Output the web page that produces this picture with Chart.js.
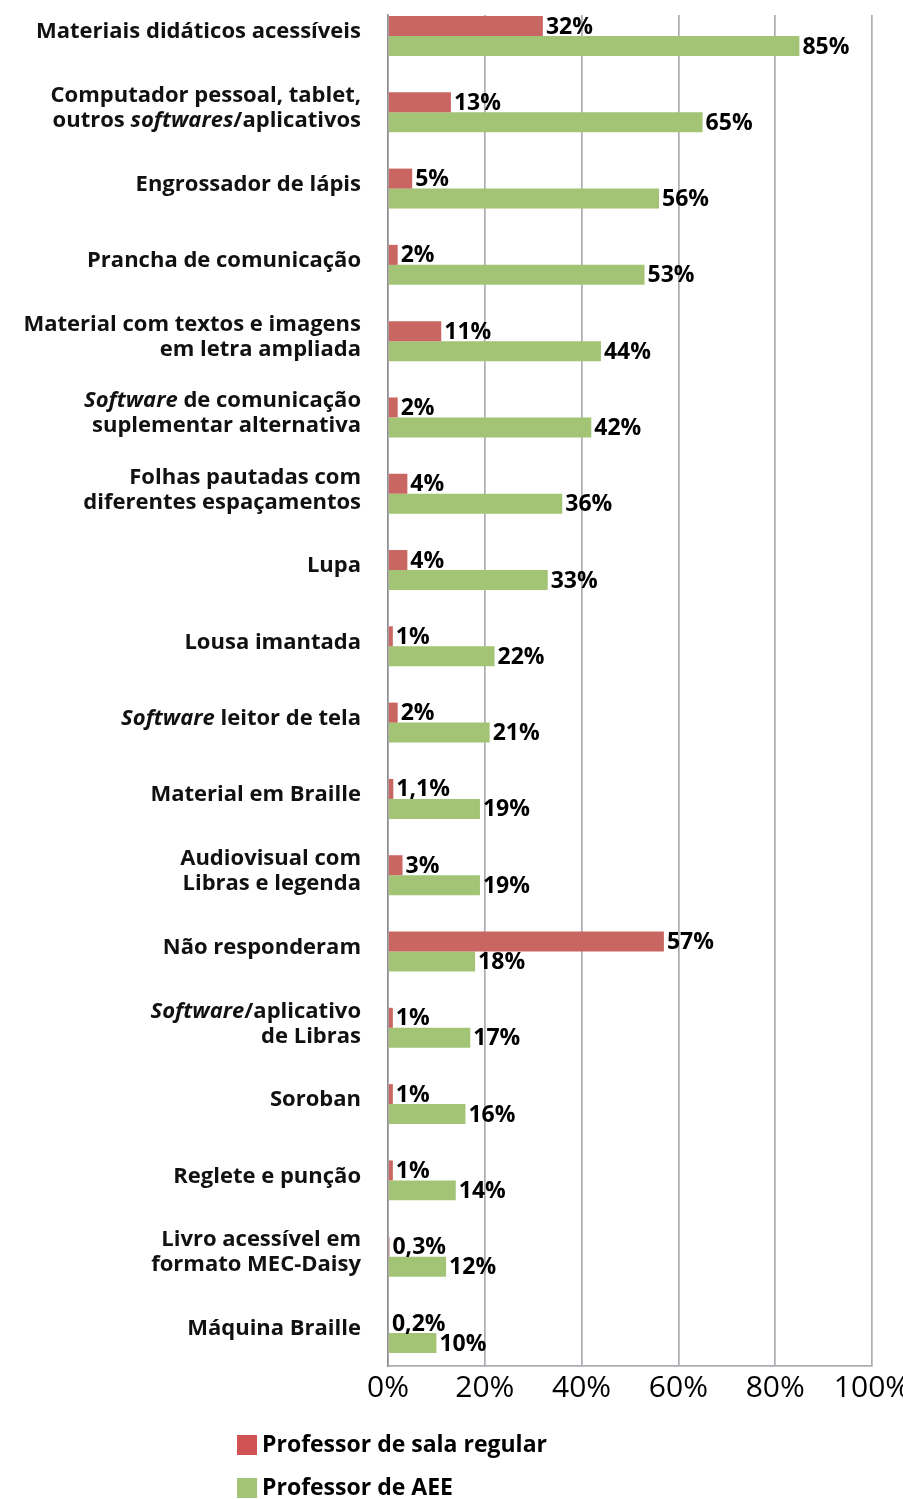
<!DOCTYPE html>
<html lang="pt-BR">
<head>
<meta charset="utf-8">
<title>Recursos utilizados pelos professores</title>
<script src="https://cdn.jsdelivr.net/npm/chart.js@4.4.1/dist/chart.umd.min.js"></script>
<style>
  html, body { margin: 0; padding: 0; background: #fff; }
  #wrap { width: 903px; height: 1499px; position: relative; }
</style>
</head>
<body>
<div id="wrap"><canvas id="myChart"></canvas></div>
<script>
// categorias: uma linha por item do array, trechos em itálico entre *
const categorias = [
  ['Materiais didáticos acessíveis'],
  ['Computador pessoal, tablet,', 'outros *softwares*/aplicativos'],
  ['Engrossador de lápis'],
  ['Prancha de comunicação'],
  ['Material com textos e imagens', 'em letra ampliada'],
  ['*Software* de comunicação', 'suplementar alternativa'],
  ['Folhas pautadas com', 'diferentes espaçamentos'],
  ['Lupa'],
  ['Lousa imantada'],
  ['*Software* leitor de tela'],
  ['Material em Braille'],
  ['Audiovisual com', 'Libras e legenda'],
  ['Não responderam'],
  ['*Software*/aplicativo', 'de Libras'],
  ['Soroban'],
  ['Reglete e punção'],
  ['Livro acessível em', 'formato MEC-Daisy'],
  ['Máquina Braille']
];
const salaRegular  = [32, 13, 5, 2, 11, 2, 4, 4, 1, 2, 1.1, 3, 57, 1, 1, 1, 0.3, 0.2];
const professorAEE = [85, 65, 56, 53, 44, 42, 36, 33, 22, 21, 19, 19, 18, 17, 16, 14, 12, 10];
const ticksX = [0, 20, 40, 60, 80, 100];
const nomesSeries = ['Professor de sala regular', 'Professor de AEE'];

const FONTE = '"Open Sans", "DejaVu Sans", sans-serif';
const corVermelha = '#C96662';
const corVerde = '#A2C474';

function fmt(v) {
  return String(v).replace('.', ',') + '%';
}

// rótulos das categorias com trechos em itálico
const rotulosY = {
  id: 'rotulosY',
  afterDraw(chart) {
    const ctx = chart.ctx;
    const y = chart.scales.y;
    const direita = y.right - 27;
    const alturaLinha = 25;
    ctx.save();
    ctx.fillStyle = '#111';
    ctx.textBaseline = 'middle';
    ctx.textAlign = 'left';
    categorias.forEach((linhas, i) => {
      const yc = y.getPixelForValue(i) - 4;
      const y0 = yc - (linhas.length - 1) * alturaLinha / 2;
      linhas.forEach((linha, j) => {
        const partes = linha.split('*').map((t, k) => ({ t, italico: k % 2 === 1 }));
        let total = 0;
        partes.forEach(p => {
          ctx.font = (p.italico ? 'italic ' : '') + 'bold 22px ' + FONTE;
          p.w = ctx.measureText(p.t).width;
          total += p.w;
        });
        let x = direita - total;
        partes.forEach(p => {
          ctx.font = (p.italico ? 'italic ' : '') + 'bold 22px ' + FONTE;
          ctx.fillText(p.t, x, y0 + j * alturaLinha);
          x += p.w;
        });
      });
    });
    ctx.restore();
  }
};

// valores ao lado de cada barra
const valoresBarras = {
  id: 'valoresBarras',
  afterDatasetsDraw(chart) {
    const ctx = chart.ctx;
    ctx.save();
    ctx.font = 'bold 23px ' + FONTE;
    ctx.fillStyle = '#000';
    ctx.textAlign = 'left';
    ctx.textBaseline = 'middle';
    chart.data.datasets.forEach((ds, d) => {
      chart.getDatasetMeta(d).data.forEach((bar, i) => {
        ctx.fillText(fmt(ds.data[i]), bar.x + 3, bar.y + 1);
      });
    });
    ctx.restore();
  }
};

// legenda empilhada no rodapé
const legendaRodape = {
  id: 'legendaRodape',
  afterDraw(chart) {
    const ctx = chart.ctx;
    ctx.save();
    ctx.font = 'bold 23px ' + FONTE;
    ctx.textBaseline = 'middle';
    ctx.textAlign = 'left';
    chart.data.datasets.forEach((ds, d) => {
      const yTop = 1435 + d * 43;
      ctx.fillStyle = d === 0 ? '#D05252' : '#A2C474';
      ctx.fillRect(237, yTop, 20, 20);
      ctx.fillStyle = '#000';
      ctx.fillText(ds.label, 262, yTop + 10);
    });
    ctx.restore();
  }
};

const ctx = document.getElementById('myChart');
new Chart(ctx, {
  type: 'bar',
  data: {
    labels: categorias.map(l => l.join(' ').replace(/\*/g, '')),
    datasets: [
      { label: nomesSeries[0], data: salaRegular, backgroundColor: corVermelha },
      { label: nomesSeries[1], data: professorAEE, backgroundColor: corVerde }
    ]
  },
  options: {
    indexAxis: 'y',
    responsive: true,
    maintainAspectRatio: false,
    animation: false,
    categoryPercentage: 0.524,
    barPercentage: 1.0,
    layout: { padding: { top: 15, right: 31, bottom: 83, left: 0 } },
    plugins: {
      legend: { display: false },
      tooltip: { enabled: false }
    },
    scales: {
      x: {
        type: 'linear',
        min: 0,
        max: 100,
        afterBuildTicks: (scale) => { scale.ticks = ticksX.map(v => ({ value: v })); },
        afterFit: (scale) => {
          scale.height = 50;
          // o "100%" pode ultrapassar a borda direita
          scale.paddingLeft = 0;
          scale.paddingRight = 0;
        },
        ticks: {
          callback: (v) => v + '%',
          color: '#000',
          font: { family: FONTE, size: 30 },
          padding: 4,
          maxRotation: 0
        },
        grid: { color: '#ADADB2', lineWidth: 1.7, drawTicks: false },
        border: { color: '#ADADB2', width: 1.7 }
      },
      y: {
        afterFit: (scale) => { scale.width = 388; },
        // leve deslocamento das categorias para cima
        afterBuildTicks: (scale) => { scale._startValue = -0.275; scale._valueRange = 17.708; },
        ticks: { display: false },
        grid: { display: false },
        border: { color: '#8E8E92', width: 1.5 }
      }
    }
  },
  plugins: [rotulosY, valoresBarras, legendaRodape]
});
</script>
</body>
</html>
